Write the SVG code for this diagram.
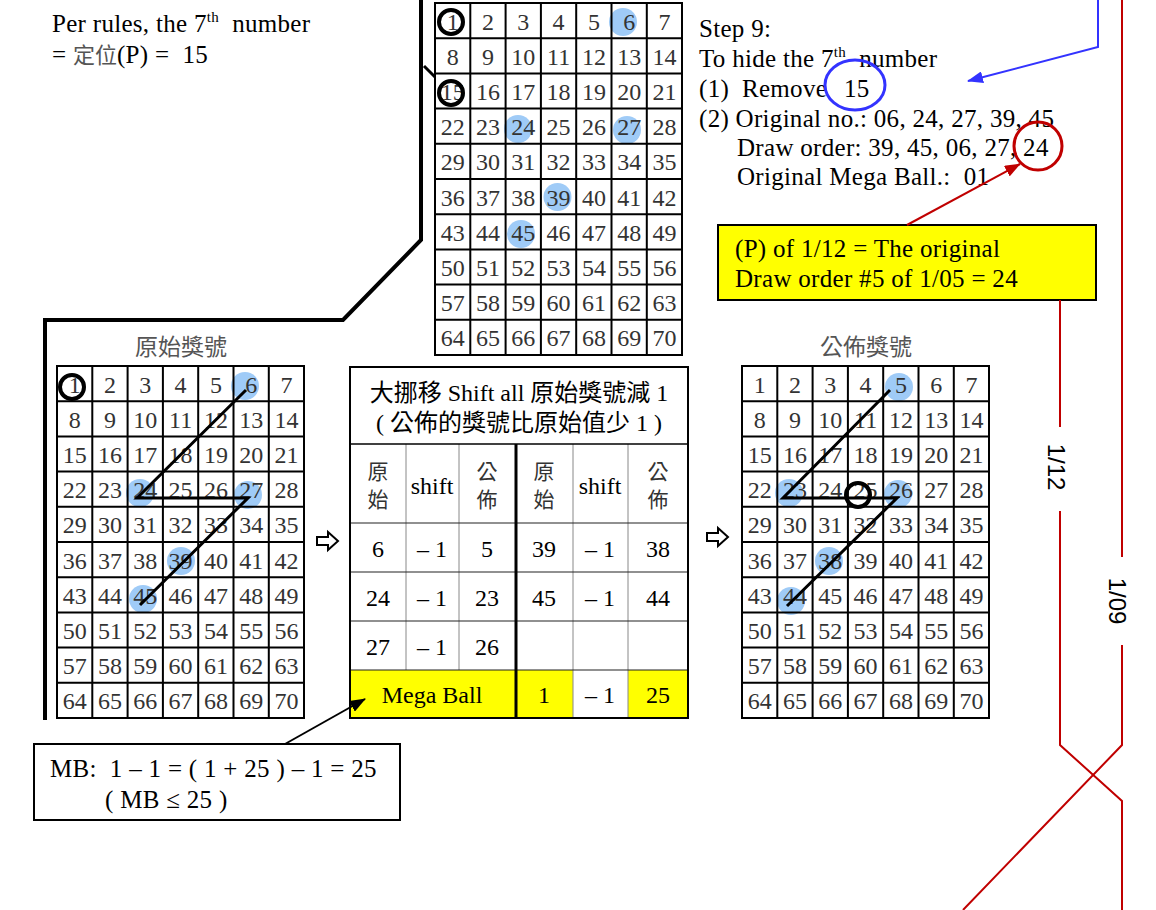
<svg xmlns="http://www.w3.org/2000/svg" width="1156" height="910" viewBox="0 0 1156 910">
<defs>
<style>
.t{font-family:"Liberation Serif","Noto Sans CJK TC",serif;font-size:25px;fill:#000;letter-spacing:0.3px}
.cjk{font-family:"Noto Sans CJK TC",sans-serif;fill:#555;letter-spacing:0}
.n{font-family:"Liberation Serif",serif;font-size:24px;fill:#333;text-anchor:middle}
.gl{fill:none;stroke:#000;stroke-width:2}
.bc{fill:#9fcbf7}
.kc{fill:none;stroke:#000;stroke-width:4}
.zz{fill:none;stroke:#000;stroke-width:3}
.tb{font-family:"Liberation Serif","Noto Sans CJK TC",serif;font-size:24px;text-anchor:middle;fill:#000}
.hc{font-family:"Noto Sans CJK TC",sans-serif;font-size:21px;text-anchor:middle;fill:#333}
.ttl{font-family:"Noto Sans CJK TC",sans-serif;font-size:23px;text-anchor:middle;fill:#555}
.thin{stroke:#888;stroke-width:1;fill:none}
.red{fill:none;stroke:#c00000;stroke-width:2}
.rot{font-family:"Liberation Sans",sans-serif;font-size:24px;fill:#000;text-anchor:middle}
</style>
<marker id="mb" markerUnits="userSpaceOnUse" markerWidth="16" markerHeight="12" refX="15" refY="6" orient="auto"><path d="M0,0 L16,6 L0,12 Z" fill="#3333ff"/></marker>
<marker id="mr" markerUnits="userSpaceOnUse" markerWidth="16" markerHeight="12" refX="15" refY="6" orient="auto"><path d="M0,0 L16,6 L0,12 Z" fill="#c00000"/></marker>
<marker id="mk" markerUnits="userSpaceOnUse" markerWidth="16" markerHeight="12" refX="15" refY="6" orient="auto"><path d="M0,0 L16,6 L0,12 Z" fill="#000"/></marker>
</defs>
<rect width="1156" height="910" fill="#fff"/>

<g id="note-top-left">
<text class="t" x="52" y="32" xml:space="preserve">Per rules, the 7<tspan font-size="15" dy="-10">th</tspan><tspan dy="10">  number</tspan></text>
<text class="t" x="52" y="63" xml:space="preserve">= <tspan class="cjk" font-size="22">定位</tspan>(P) =  15</text>
</g>

<g id="frame-line">
<path d="M421,0 V240 L343,320 H45 V720" fill="none" stroke="#000" stroke-width="4"/>
<path d="M424,66 L473,115" class="zz"/>
</g>

<g id="grid-top" transform="translate(435,3)">
<rect width="247" height="352" fill="#fff"/>
<circle class="bc" cx="188" cy="19" r="14"/>
<circle class="bc" cx="83" cy="126" r="14"/>
<circle class="bc" cx="192" cy="127" r="14"/>
<circle class="bc" cx="122.5" cy="194" r="14"/>
<circle class="bc" cx="86" cy="231" r="14"/>
<path class="gl" d="M0,0H247V352H0Z M35.3,0V352 M70.6,0V352 M105.9,0V352 M141.2,0V352 M176.5,0V352 M211.8,0V352 M0,35.2H247 M0,70.4H247 M0,105.6H247 M0,140.8H247 M0,176H247 M0,211.2H247 M0,246.4H247 M0,281.6H247 M0,316.8H247"/>
<text class="n" y="26.6"><tspan x="17.7">1</tspan><tspan x="53">2</tspan><tspan x="88.3">3</tspan><tspan x="123.6">4</tspan><tspan x="158.9">5</tspan><tspan x="194.2">6</tspan><tspan x="229.5">7</tspan></text>
<text class="n" y="61.8"><tspan x="17.7">8</tspan><tspan x="53">9</tspan><tspan x="88.3">10</tspan><tspan x="123.6">11</tspan><tspan x="158.9">12</tspan><tspan x="194.2">13</tspan><tspan x="229.5">14</tspan></text>
<text class="n" y="97"><tspan x="17.7">15</tspan><tspan x="53">16</tspan><tspan x="88.3">17</tspan><tspan x="123.6">18</tspan><tspan x="158.9">19</tspan><tspan x="194.2">20</tspan><tspan x="229.5">21</tspan></text>
<text class="n" y="132.2"><tspan x="17.7">22</tspan><tspan x="53">23</tspan><tspan x="88.3">24</tspan><tspan x="123.6">25</tspan><tspan x="158.9">26</tspan><tspan x="194.2">27</tspan><tspan x="229.5">28</tspan></text>
<text class="n" y="167.4"><tspan x="17.7">29</tspan><tspan x="53">30</tspan><tspan x="88.3">31</tspan><tspan x="123.6">32</tspan><tspan x="158.9">33</tspan><tspan x="194.2">34</tspan><tspan x="229.5">35</tspan></text>
<text class="n" y="202.6"><tspan x="17.7">36</tspan><tspan x="53">37</tspan><tspan x="88.3">38</tspan><tspan x="123.6">39</tspan><tspan x="158.9">40</tspan><tspan x="194.2">41</tspan><tspan x="229.5">42</tspan></text>
<text class="n" y="237.8"><tspan x="17.7">43</tspan><tspan x="53">44</tspan><tspan x="88.3">45</tspan><tspan x="123.6">46</tspan><tspan x="158.9">47</tspan><tspan x="194.2">48</tspan><tspan x="229.5">49</tspan></text>
<text class="n" y="273"><tspan x="17.7">50</tspan><tspan x="53">51</tspan><tspan x="88.3">52</tspan><tspan x="123.6">53</tspan><tspan x="158.9">54</tspan><tspan x="194.2">55</tspan><tspan x="229.5">56</tspan></text>
<text class="n" y="308.2"><tspan x="17.7">57</tspan><tspan x="53">58</tspan><tspan x="88.3">59</tspan><tspan x="123.6">60</tspan><tspan x="158.9">61</tspan><tspan x="194.2">62</tspan><tspan x="229.5">63</tspan></text>
<text class="n" y="343.4"><tspan x="17.7">64</tspan><tspan x="53">65</tspan><tspan x="88.3">66</tspan><tspan x="123.6">67</tspan><tspan x="158.9">68</tspan><tspan x="194.2">69</tspan><tspan x="229.5">70</tspan></text>
<circle class="kc" cx="16" cy="19" r="12"/>
<circle class="kc" cx="16" cy="90" r="12"/>
</g>

<g id="title-left"><text class="ttl" x="181" y="355">原始獎號</text></g>
<g id="grid-left" transform="translate(57,366)">
<rect width="247" height="352" fill="#fff"/>
<circle class="bc" cx="188" cy="20" r="14"/>
<circle class="bc" cx="83" cy="127" r="14"/>
<circle class="bc" cx="191" cy="129" r="14"/>
<circle class="bc" cx="124" cy="195" r="14"/>
<circle class="bc" cx="86" cy="233" r="14"/>
<path class="gl" d="M0,0H247V352H0Z M35.3,0V352 M70.6,0V352 M105.9,0V352 M141.2,0V352 M176.5,0V352 M211.8,0V352 M0,35.2H247 M0,70.4H247 M0,105.6H247 M0,140.8H247 M0,176H247 M0,211.2H247 M0,246.4H247 M0,281.6H247 M0,316.8H247"/>
<text class="n" y="26.6"><tspan x="17.7">1</tspan><tspan x="53">2</tspan><tspan x="88.3">3</tspan><tspan x="123.6">4</tspan><tspan x="158.9">5</tspan><tspan x="194.2">6</tspan><tspan x="229.5">7</tspan></text>
<text class="n" y="61.8"><tspan x="17.7">8</tspan><tspan x="53">9</tspan><tspan x="88.3">10</tspan><tspan x="123.6">11</tspan><tspan x="158.9">12</tspan><tspan x="194.2">13</tspan><tspan x="229.5">14</tspan></text>
<text class="n" y="97"><tspan x="17.7">15</tspan><tspan x="53">16</tspan><tspan x="88.3">17</tspan><tspan x="123.6">18</tspan><tspan x="158.9">19</tspan><tspan x="194.2">20</tspan><tspan x="229.5">21</tspan></text>
<text class="n" y="132.2"><tspan x="17.7">22</tspan><tspan x="53">23</tspan><tspan x="88.3">24</tspan><tspan x="123.6">25</tspan><tspan x="158.9">26</tspan><tspan x="194.2">27</tspan><tspan x="229.5">28</tspan></text>
<text class="n" y="167.4"><tspan x="17.7">29</tspan><tspan x="53">30</tspan><tspan x="88.3">31</tspan><tspan x="123.6">32</tspan><tspan x="158.9">33</tspan><tspan x="194.2">34</tspan><tspan x="229.5">35</tspan></text>
<text class="n" y="202.6"><tspan x="17.7">36</tspan><tspan x="53">37</tspan><tspan x="88.3">38</tspan><tspan x="123.6">39</tspan><tspan x="158.9">40</tspan><tspan x="194.2">41</tspan><tspan x="229.5">42</tspan></text>
<text class="n" y="237.8"><tspan x="17.7">43</tspan><tspan x="53">44</tspan><tspan x="88.3">45</tspan><tspan x="123.6">46</tspan><tspan x="158.9">47</tspan><tspan x="194.2">48</tspan><tspan x="229.5">49</tspan></text>
<text class="n" y="273"><tspan x="17.7">50</tspan><tspan x="53">51</tspan><tspan x="88.3">52</tspan><tspan x="123.6">53</tspan><tspan x="158.9">54</tspan><tspan x="194.2">55</tspan><tspan x="229.5">56</tspan></text>
<text class="n" y="308.2"><tspan x="17.7">57</tspan><tspan x="53">58</tspan><tspan x="88.3">59</tspan><tspan x="123.6">60</tspan><tspan x="158.9">61</tspan><tspan x="194.2">62</tspan><tspan x="229.5">63</tspan></text>
<text class="n" y="343.4"><tspan x="17.7">64</tspan><tspan x="53">65</tspan><tspan x="88.3">66</tspan><tspan x="123.6">67</tspan><tspan x="158.9">68</tspan><tspan x="194.2">69</tspan><tspan x="229.5">70</tspan></text>
<circle class="kc" cx="15" cy="21" r="12"/>
<path class="zz" d="M189,24 L80,132 L191,132 L83,239"/>
</g>

<g id="arrow-left-hollow"><polygon points="317,537 328,537 328,532 338,541 328,550 328,545 317,545" fill="#fff" stroke="#000" stroke-width="2"/></g>

<g id="table">
<rect x="350" y="670" width="166" height="48" fill="#ffff00"/>
<rect x="516" y="670" width="57" height="48" fill="#ffff00"/>
<rect x="628" y="670" width="60" height="48" fill="#ffff00"/>
<path class="thin" d="M406,444V670 M459,444V670 M573,444V718 M628,444V718"/>
<path d="M350,523H688 M350,572H688 M350,621H688 M350,670H688" stroke="#222" stroke-width="1.2" fill="none"/>
<path d="M350,444H688" stroke="#000" stroke-width="1.5" fill="none"/>
<path d="M516,444V718" stroke="#000" stroke-width="3" fill="none"/>
<rect x="350" y="367" width="338" height="351" fill="none" stroke="#000" stroke-width="2"/>
<text class="tb" x="519" y="401" font-size="23">大挪移 Shift all 原始獎號減 1</text>
<text class="tb" x="519" y="431" font-size="23">( 公佈的獎號比原始值少 1 )</text>
<text class="hc"><tspan x="378" y="479">原</tspan><tspan x="378" y="507">始</tspan></text>
<text class="tb" x="432" y="494">shift</text>
<text class="hc"><tspan x="487" y="479">公</tspan><tspan x="487" y="507">佈</tspan></text>
<text class="hc"><tspan x="544" y="479">原</tspan><tspan x="544" y="507">始</tspan></text>
<text class="tb" x="600" y="494">shift</text>
<text class="hc"><tspan x="658" y="479">公</tspan><tspan x="658" y="507">佈</tspan></text>
<text class="tb" y="557"><tspan x="378">6</tspan><tspan x="432">– 1</tspan><tspan x="487">5</tspan><tspan x="544">39</tspan><tspan x="600">– 1</tspan><tspan x="658">38</tspan></text>
<text class="tb" y="606"><tspan x="378">24</tspan><tspan x="432">– 1</tspan><tspan x="487">23</tspan><tspan x="544">45</tspan><tspan x="600">– 1</tspan><tspan x="658">44</tspan></text>
<text class="tb" y="655"><tspan x="378">27</tspan><tspan x="432">– 1</tspan><tspan x="487">26</tspan></text>
<text class="tb" y="703"><tspan x="432">Mega Ball</tspan><tspan x="544">1</tspan><tspan x="600">– 1</tspan><tspan x="658">25</tspan></text>
</g>

<g id="arrow-right-hollow"><polygon points="707,533 718,533 718,528 728,537 718,546 718,541 707,541" fill="#fff" stroke="#000" stroke-width="2"/></g>

<g id="title-right"><text class="ttl" x="866" y="355">公佈獎號</text></g>
<g id="grid-right" transform="translate(742,366)">
<rect width="247" height="352" fill="#fff"/>
<circle class="bc" cx="157" cy="21" r="14"/>
<circle class="bc" cx="47" cy="127" r="14"/>
<circle class="bc" cx="156" cy="128" r="14"/>
<circle class="bc" cx="87" cy="195" r="14"/>
<circle class="bc" cx="49" cy="235" r="14"/>
<path class="gl" d="M0,0H247V352H0Z M35.3,0V352 M70.6,0V352 M105.9,0V352 M141.2,0V352 M176.5,0V352 M211.8,0V352 M0,35.2H247 M0,70.4H247 M0,105.6H247 M0,140.8H247 M0,176H247 M0,211.2H247 M0,246.4H247 M0,281.6H247 M0,316.8H247"/>
<text class="n" y="26.6"><tspan x="17.7">1</tspan><tspan x="53">2</tspan><tspan x="88.3">3</tspan><tspan x="123.6">4</tspan><tspan x="158.9">5</tspan><tspan x="194.2">6</tspan><tspan x="229.5">7</tspan></text>
<text class="n" y="61.8"><tspan x="17.7">8</tspan><tspan x="53">9</tspan><tspan x="88.3">10</tspan><tspan x="123.6">11</tspan><tspan x="158.9">12</tspan><tspan x="194.2">13</tspan><tspan x="229.5">14</tspan></text>
<text class="n" y="97"><tspan x="17.7">15</tspan><tspan x="53">16</tspan><tspan x="88.3">17</tspan><tspan x="123.6">18</tspan><tspan x="158.9">19</tspan><tspan x="194.2">20</tspan><tspan x="229.5">21</tspan></text>
<text class="n" y="132.2"><tspan x="17.7">22</tspan><tspan x="53">23</tspan><tspan x="88.3">24</tspan><tspan x="123.6">25</tspan><tspan x="158.9">26</tspan><tspan x="194.2">27</tspan><tspan x="229.5">28</tspan></text>
<text class="n" y="167.4"><tspan x="17.7">29</tspan><tspan x="53">30</tspan><tspan x="88.3">31</tspan><tspan x="123.6">32</tspan><tspan x="158.9">33</tspan><tspan x="194.2">34</tspan><tspan x="229.5">35</tspan></text>
<text class="n" y="202.6"><tspan x="17.7">36</tspan><tspan x="53">37</tspan><tspan x="88.3">38</tspan><tspan x="123.6">39</tspan><tspan x="158.9">40</tspan><tspan x="194.2">41</tspan><tspan x="229.5">42</tspan></text>
<text class="n" y="237.8"><tspan x="17.7">43</tspan><tspan x="53">44</tspan><tspan x="88.3">45</tspan><tspan x="123.6">46</tspan><tspan x="158.9">47</tspan><tspan x="194.2">48</tspan><tspan x="229.5">49</tspan></text>
<text class="n" y="273"><tspan x="17.7">50</tspan><tspan x="53">51</tspan><tspan x="88.3">52</tspan><tspan x="123.6">53</tspan><tspan x="158.9">54</tspan><tspan x="194.2">55</tspan><tspan x="229.5">56</tspan></text>
<text class="n" y="308.2"><tspan x="17.7">57</tspan><tspan x="53">58</tspan><tspan x="88.3">59</tspan><tspan x="123.6">60</tspan><tspan x="158.9">61</tspan><tspan x="194.2">62</tspan><tspan x="229.5">63</tspan></text>
<text class="n" y="343.4"><tspan x="17.7">64</tspan><tspan x="53">65</tspan><tspan x="88.3">66</tspan><tspan x="123.6">67</tspan><tspan x="158.9">68</tspan><tspan x="194.2">69</tspan><tspan x="229.5">70</tspan></text>
<path class="zz" d="M148,24 L41,132 L155,132 L45,240"/>
<circle class="kc" cx="116" cy="129" r="12"/>
</g>

<g id="step9">
<text class="t" x="699" y="37">Step 9:</text>
<text class="t" x="699" y="67" xml:space="preserve">To hide the 7<tspan font-size="15" dy="-10">th</tspan><tspan dy="10">  number</tspan></text>
<text class="t" y="97"><tspan x="699">(1)</tspan><tspan x="742">Remove</tspan><tspan x="844">15</tspan></text>
<text class="t" x="699" y="127">(2) Original no.: 06, 24, 27, 39, 45</text>
<text class="t" x="737" y="156">Draw order: 39, 45, 06, 27, 24</text>
<text class="t" x="737" y="185" xml:space="preserve">Original Mega Ball.:  01</text>
<ellipse cx="855" cy="85" rx="30" ry="25" fill="none" stroke="#3333ff" stroke-width="3"/>
<circle cx="1038" cy="146" r="24" fill="none" stroke="#c00000" stroke-width="3"/>
</g>

<g id="yellow-note">
<rect x="718" y="225" width="378" height="75" fill="#ffff00" stroke="#000" stroke-width="2"/>
<text class="t" x="735" y="257">(P) of 1/12 = The original</text>
<text class="t" x="735" y="287">Draw order #5 of 1/05 = 24</text>
</g>

<g id="mb-note">
<rect x="34" y="744" width="366" height="76" fill="#fff" stroke="#000" stroke-width="2"/>
<text class="t" x="50" y="777" xml:space="preserve">MB:  1 – 1 = ( 1 + 25 ) – 1 = 25</text>
<text class="t" x="105" y="808">( MB ≤ 25 )</text>
</g>

<g id="timeline">
<path class="red" d="M1060,300 V427 M1060,511 V745 L1122,801 V910"/>
<path class="red" d="M1122,0 V557 M1122,645 V745 L963,910"/>
<text class="rot" transform="translate(1056,467) rotate(90)" y="8">1/12</text>
<text class="rot" transform="translate(1117,601) rotate(90)" y="8">1/09</text>
</g>

<g id="connectors">
<path d="M1098,0 V47 L968,81" fill="none" stroke="#3333ff" stroke-width="2" marker-end="url(#mb)"/>
<path d="M907,225 L1020,164" fill="none" stroke="#c00000" stroke-width="2" marker-end="url(#mr)"/>
<path d="M285,744 L365,699" fill="none" stroke="#000" stroke-width="2" marker-end="url(#mk)"/>
</g>
</svg>
